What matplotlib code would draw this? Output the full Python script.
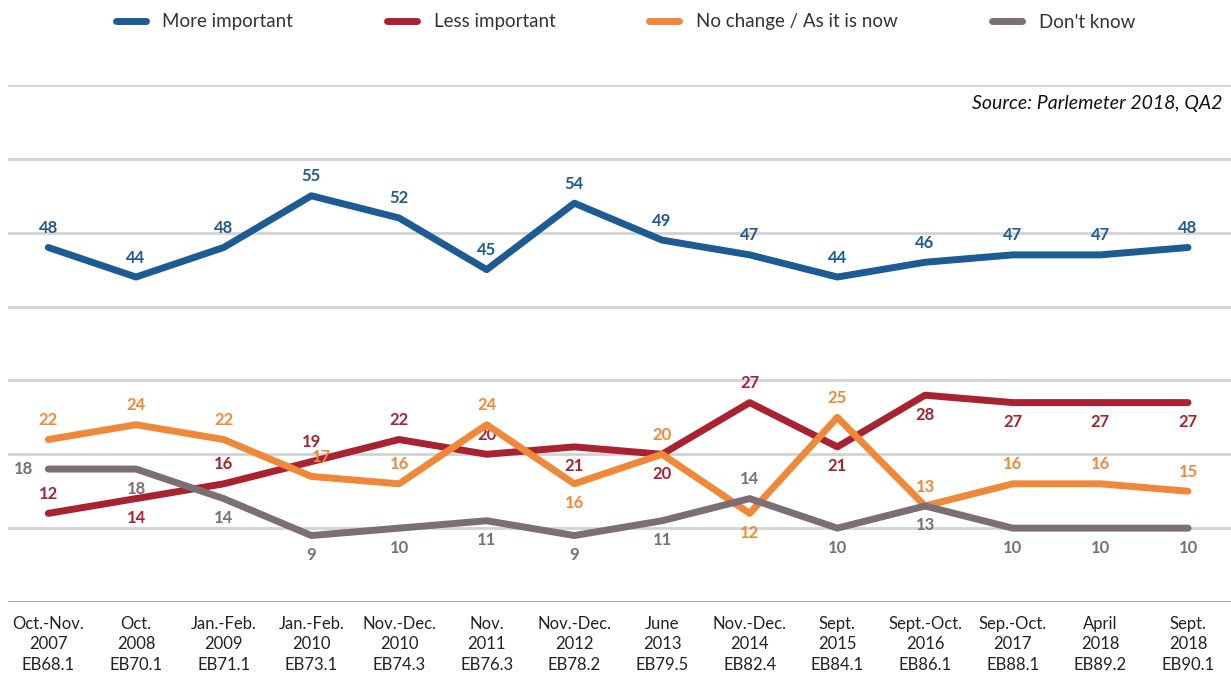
import matplotlib.pyplot as plt

plt.rcParams['font.family'] = ['Lato', 'DejaVu Sans']

periods = ['Oct.-Nov.\n2007\nEB68.1', 'Oct.\n2008\nEB70.1', 'Jan.-Feb.\n2009\nEB71.1',
           'Jan.-Feb.\n2010\nEB73.1', 'Nov.-Dec.\n2010\nEB74.3', 'Nov.\n2011\nEB76.3',
           'Nov.-Dec.\n2012\nEB78.2', 'June\n2013\nEB79.5', 'Nov.-Dec.\n2014\nEB82.4',
           'Sept.\n2015\nEB84.1', 'Sept.-Oct.\n2016\nEB86.1', 'Sep.-Oct.\n2017\nEB88.1',
           'April\n2018\nEB89.2', 'Sept.\n2018\nEB90.1']

more_important = [48, 44, 48, 55, 52, 45, 54, 49, 47, 44, 46, 47, 47, 48]
less_important = [12, 14, 16, 19, 22, 20, 21, 20, 27, 21, 28, 27, 27, 27]
no_change = [22, 24, 22, 17, 16, 24, 16, 20, 12, 25, 13, 16, 16, 15]
dont_know = [18, 18, 14, 9, 10, 11, 9, 11, 14, 10, 13, 10, 10, 10]

# label placement: 1 = above the point, -1 = below, 0 = left of point
less_pos = [1, -1, 1, 1, 1, 1, -1, -1, 1, -1, -1, -1, -1, -1]
nochange_pos = [1, 1, 1, 1, 1, 1, -1, 1, -1, 1, 1, 1, 1, 1]
dk_pos = [0, -1, -1, -1, -1, -1, -1, -1, 1, -1, -1, -1, -1, -1]

series = [
    ('More important', more_important, '#1d5b95', [1] * 14),
    ('Less important', less_important, '#a8232f', less_pos),
    ('No change / As it is now', no_change, '#f0883a', nochange_pos),
    ("Don't know", dont_know, '#7b6e75', dk_pos),
]

fig = plt.figure(figsize=(12.31, 6.77), dpi=100)
ax = fig.add_axes([8 / 1231, 1 - 602 / 677, 1223 / 1231, (602 - 85) / 677])

x = list(range(len(periods)))
handles = []
for name, vals, col, pos in series:
    ln, = ax.plot(x, vals, color=col, lw=5, solid_capstyle='round',
                  solid_joinstyle='round', label=name, zorder=3)
    handles.append(ln)
    for xi, v, p in zip(x, vals, pos):
        if p == 0:
            ax.annotate(str(v), (xi, v), xytext=(-11, 0), textcoords='offset points',
                        ha='right', va='center', color=col, fontsize=12, fontweight='bold')
        else:
            dx = 7 if (name.startswith('No change') and xi == 3) else 0
            ax.annotate(str(v), (xi, v), xytext=(dx, 14 * p), textcoords='offset points',
                        ha='center', va='center', color=col, fontsize=12, fontweight='bold')

ax.set_xlim(-0.46, 13.49)
ax.set_ylim(0, 70)
ax.set_yticks(range(10, 71, 10))
ax.yaxis.grid(True, color='#d3d3d3', lw=2)
ax.set_axisbelow(True)
ax.axhline(0, color='#a0a0a0', lw=2, zorder=2)
ax.tick_params(axis='y', length=0, labelleft=False)
ax.set_xticks(x)
ax.set_xticklabels(periods, fontsize=12, linespacing=1.35, color='#222222')
ax.tick_params(axis='x', length=0, pad=10)
for s in ax.spines.values():
    s.set_visible(False)

ax.text(0.993, 0.965, 'Source: Parlemeter 2018, QA2', transform=ax.transAxes,
        ha='right', va='center', style='italic', fontsize=14, color='#111111')

fig.legend(handles=handles, loc='center', bbox_to_anchor=(0.508, 1 - 22 / 677), ncol=4,
           frameon=False, fontsize=13.5, handlelength=1.6, columnspacing=5.0,
           handletextpad=0.9, labelcolor='#333333')

fig.savefig('out.png', dpi=100)
